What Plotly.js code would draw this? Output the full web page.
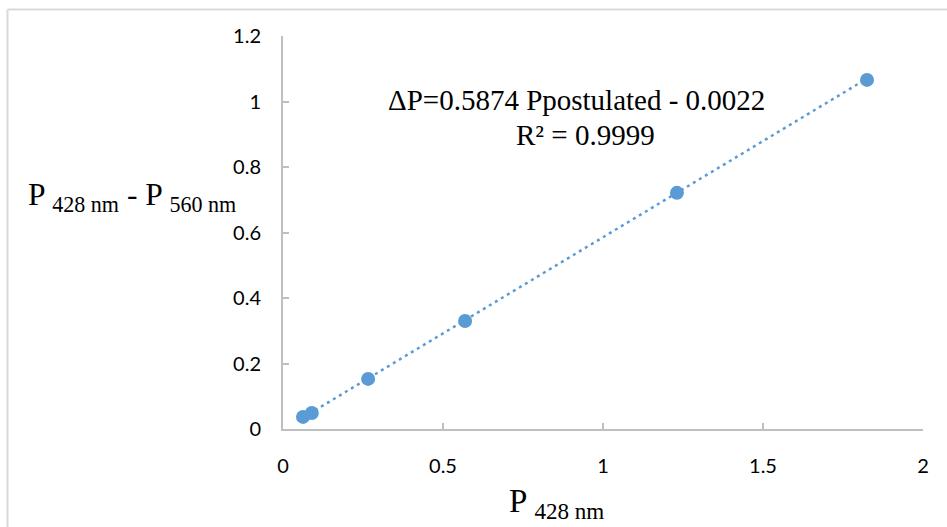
<!DOCTYPE html>
<html>
<head>
<meta charset="utf-8">
<script src="https://cdn.plot.ly/plotly-3.0.1.min.js"></script>
<style>
html,body{margin:0;padding:0;background:#fff;}
#chart{width:947px;height:527px;}
</style>
</head>
<body>
<div id="chart"></div>
<script>
// Data
var xValues = [0.0625, 0.09, 0.266, 0.569, 1.231, 1.825];
var yValues = [0.037, 0.049, 0.153, 0.330, 0.721, 1.066];
// Trendline end points (as drawn in the reference)
var trendX = [0.0625, 1.825];
var trendY = [0.035, 1.070];
var xTicks = [0, 0.5, 1, 1.5, 2];
var xTickText = ['0', '0.5', '1', '1.5', '2'];
var yTicks = [0, 0.2, 0.4, 0.6, 0.8, 1, 1.2];
var yTickText = ['0', '0.2', '0.4', '0.6', '0.8', '1', '1.2'];
var equationText = 'ΔP=0.5874 Ppostulated - 0.0022';
var r2Text = 'R² = 0.9999';

var blue = '#5B9BD5';
var axisGray = '#BFBFBF';
var tickFont = {family: 'Lato, sans-serif', size: 20, color: '#000'};
var serif = 'Liberation Serif, Times New Roman, serif';

var traces = [
  {
    x: trendX, y: trendY, type: 'scatter', mode: 'lines',
    line: {color: blue, width: 2.5, dash: '3px,4px'},
    hoverinfo: 'skip', showlegend: false
  },
  {
    x: xValues, y: yValues, type: 'scatter', mode: 'markers',
    marker: {color: blue, size: 14},
    showlegend: false
  }
];

var layout = {
  width: 947, height: 527,
  margin: {l: 283, r: 24, t: 36, b: 98},
  paper_bgcolor: '#fff', plot_bgcolor: '#fff',
  showlegend: false,
  font: {family: serif},
  xaxis: {
    range: [0, 2], tickvals: xTicks, ticktext: xTickText,
    showgrid: false, zeroline: false,
    showline: true, linecolor: axisGray, linewidth: 2,
    ticks: 'inside', ticklen: 6, tickcolor: axisGray, tickwidth: 2,
    tickfont: tickFont, ticklabelstandoff: 18,
    fixedrange: true
  },
  yaxis: {
    range: [0, 1.2], tickvals: yTicks, ticktext: yTickText,
    showgrid: false, zeroline: false,
    showline: true, linecolor: axisGray, linewidth: 2,
    ticks: 'inside', ticklen: 6, tickcolor: axisGray, tickwidth: 2,
    tickfont: tickFont, ticklabelstandoff: 16,
    fixedrange: true
  },
  shapes: [
    {type: 'line', xref: 'paper', yref: 'paper', x0: -0.4305, x1: 1.05, y0: 1.0675, y1: 1.0675,
     line: {color: '#D9D9D9', width: 2}},
    {type: 'line', xref: 'paper', yref: 'paper', x0: -0.4305, x1: -0.4305, y0: 1.0675, y1: -0.3,
     line: {color: '#D9D9D9', width: 2}}
  ],
  annotations: [
    {xref: 'paper', yref: 'paper', x: 0.458, y: 0.837, xanchor: 'center', yanchor: 'middle',
     text: equationText, showarrow: false, font: {family: serif, size: 29, color: '#000'}},
    {xref: 'paper', yref: 'paper', x: 0.472, y: 0.748, xanchor: 'center', yanchor: 'middle',
     text: r2Text, showarrow: false, font: {family: serif, size: 29, color: '#000'}},
    {xref: 'paper', yref: 'paper', x: -0.236, y: 0.59, xanchor: 'center', yanchor: 'middle',
     text: 'P <sub>428 nm</sub> - P <sub>560 nm</sub>', showarrow: false,
     font: {family: serif, size: 31.5, color: '#000'}},
    {xref: 'paper', yref: 'paper', x: 0.428, y: -0.19, xanchor: 'center', yanchor: 'middle',
     text: 'P <sub>428 nm</sub>', showarrow: false,
     font: {family: serif, size: 33, color: '#000'}}
  ]
};

Plotly.newPlot('chart', traces, layout, {displayModeBar: false, staticPlot: true});
</script>
</body>
</html>
